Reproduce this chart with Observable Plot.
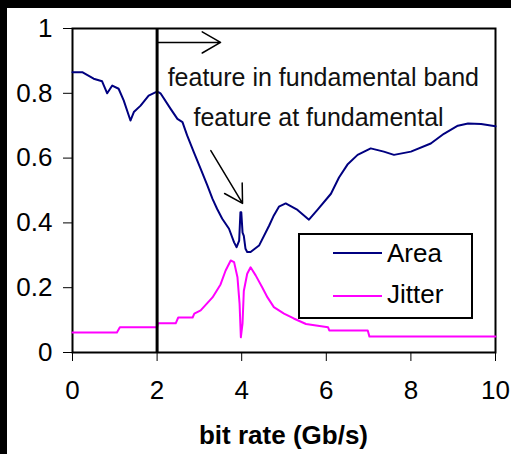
<!DOCTYPE html>
<html><head><meta charset="utf-8">
<script src="https://cdn.jsdelivr.net/npm/d3@7"></script>
<script src="https://cdn.jsdelivr.net/npm/@observablehq/plot@0.6"></script>
<style>
html,body{margin:0;padding:0;background:#fff;}
#wrap{position:absolute;left:0;top:0;width:511px;height:454px;overflow:hidden;background:#fff;font-family:"Liberation Sans",Arial,sans-serif;color:#000;}
#chart{position:absolute;left:0;top:0;}
#chart svg{display:block;overflow:visible;}
#barTop{position:absolute;left:0;top:0;width:511px;height:8px;background:#000;}
#barLeft{position:absolute;left:0;top:0;width:7px;height:454px;background:#000;}
#xlabel{position:absolute;left:72px;width:423px;top:422px;text-align:center;font-weight:bold;font-size:26px;line-height:26px;white-space:nowrap;}
#legend{position:absolute;left:298px;top:233px;width:175px;height:86px;box-sizing:border-box;border:2px solid #000;background:#fff;}
.sw{position:absolute;left:33px;width:49px;height:2px;}
.lt{position:absolute;left:87px;font-size:26px;line-height:26px;white-space:nowrap;}
</style>
</head><body>
<div id="wrap">
  <div id="chart"></div>
  <div id="legend"></div>
  <div id="xlabel"></div>
  <div id="barTop"></div>
  <div id="barLeft"></div>
</div>
<script>
// ---- data ----
const areaX = [0,0.23,0.5,0.7,0.82,0.94,1.09,1.21,1.37,1.45,1.61,1.8,1.96,2.04,2.08,2.32,2.48,2.6,2.71,2.87,3.03,3.19,3.31,3.42,3.54,3.7,3.82,3.88,3.94,3.97,3.99,4.02,4.05,4.09,4.13,4.21,4.41,4.65,4.76,4.88,5.04,5.32,5.59,5.79,6.11,6.3,6.5,6.74,7.05,7.36,7.6,8.0,8.47,8.78,9.11,9.35,9.66,10];
const areaY = [0.865,0.865,0.845,0.837,0.80,0.824,0.814,0.778,0.716,0.742,0.762,0.793,0.803,0.803,0.80,0.752,0.721,0.711,0.67,0.618,0.567,0.515,0.474,0.443,0.413,0.382,0.34,0.325,0.345,0.433,0.433,0.37,0.36,0.32,0.31,0.31,0.33,0.392,0.423,0.45,0.46,0.44,0.41,0.44,0.49,0.54,0.58,0.61,0.63,0.62,0.61,0.62,0.645,0.675,0.70,0.707,0.705,0.698];
const jitterX = [0,1.05,1.12,2.0,2.02,2.44,2.5,2.84,2.88,3.03,3.31,3.5,3.62,3.74,3.82,3.9,3.95,3.98,4.02,4.05,4.13,4.21,4.33,4.49,4.61,4.76,4.88,5.0,5.23,5.52,6.04,6.07,6.98,7.02,10];
const jitterY = [0.062,0.062,0.078,0.078,0.09,0.09,0.108,0.108,0.12,0.13,0.17,0.21,0.253,0.284,0.279,0.232,0.15,0.047,0.09,0.19,0.243,0.263,0.238,0.20,0.17,0.14,0.13,0.12,0.105,0.088,0.078,0.068,0.068,0.049,0.049];
const xTicks = [0,2,4,6,8,10];
const yTicks = [0,0.2,0.4,0.6,0.8,1];
const seriesNames = ["Area","Jitter"];
const seriesColors = ["#000080","#ff00ff"];
const xLabel = "bit rate (Gb/s)";
const markerX = [2];
const noteTexts = ["feature in fundamental band","feature at fundamental"];
const noteX = [2.25, 2.86];
const noteY = [0.821, 0.70];
const arrowX1 = [2, 3.27], arrowY1 = [0.957, 0.623];
const arrowX2 = [3.5, 4.02], arrowY2 = [0.957, 0.46];

const FONT = '"Liberation Sans", Arial, sans-serif';
const idx = n => d3.range(n);

const chart = Plot.plot({
  width: 500, height: 410,
  marginLeft: 72, marginRight: 5, marginTop: 28, marginBottom: 58,
  style: {fontFamily: FONT, fontSize: "26px", background: "transparent", color: "#000", overflow: "visible"},
  x: {domain: [0, 10], ticks: xTicks, tickSize: 9, tickPadding: 19, label: null, tickFormat: d => String(d)},
  y: {domain: [0, 1], ticks: yTicks, tickSize: 9, tickPadding: 11, label: null, tickFormat: d => String(d)},
  marks: [
    Plot.frame({stroke: "#000", strokeWidth: 2}),
    Plot.line(idx(areaX.length), {x: i => areaX[i], y: i => areaY[i], stroke: seriesColors[0], strokeWidth: 2}),
    Plot.line(idx(jitterX.length), {x: i => jitterX[i], y: i => jitterY[i], stroke: seriesColors[1], strokeWidth: 2}),
    Plot.ruleX(markerX, {stroke: "#000", strokeWidth: 3}),
    Plot.arrow(idx(arrowX1.length), {x1: i => arrowX1[i], y1: i => arrowY1[i], x2: i => arrowX2[i], y2: i => arrowY2[i], stroke: "#000", strokeWidth: 1.5, headAngle: 60, headLength: 22}),
    Plot.text(idx(noteTexts.length), {x: i => noteX[i], y: i => noteY[i], text: i => noteTexts[i], textAnchor: "start", lineAnchor: "bottom", fontSize: 25, fill: "#111"})
  ]
});
document.getElementById("chart").appendChild(chart);

document.getElementById("xlabel").textContent = xLabel;
const leg = document.getElementById("legend");
const swTop = [17, 60], txtTop = [5, 46];
seriesNames.forEach((name, i) => {
  const s = document.createElement("div");
  s.className = "sw"; s.style.top = swTop[i] + "px"; s.style.background = seriesColors[i];
  leg.appendChild(s);
  const t = document.createElement("div");
  t.className = "lt"; t.style.top = txtTop[i] + "px"; t.textContent = name;
  leg.appendChild(t);
});
</script>
</body></html>
